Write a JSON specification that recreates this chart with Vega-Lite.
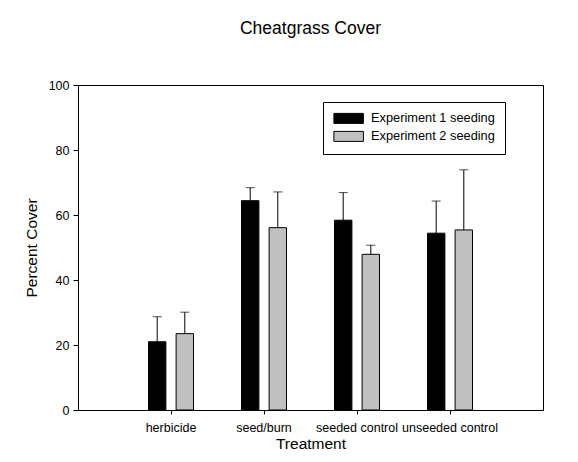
{
  "$schema": "https://vega.github.io/schema/vega-lite/v6.json",
  "width": 465,
  "height": 325,
  "autosize": "none",
  "padding": {"left": 78, "top": 85, "right": 35, "bottom": 52},
  "background": "white",
  "title": {"text": "Cheatgrass Cover", "fontSize": 17.5, "font": "Liberation Sans", "fontWeight": "normal", "color": "black", "offset": 42},
  "data": {
    "values": [
      {"treatment": "herbicide", "experiment": "Experiment 1 seeding", "cover": 21.0, "upper": 28.7},
      {"treatment": "herbicide", "experiment": "Experiment 2 seeding", "cover": 23.5, "upper": 30.1},
      {"treatment": "seed/burn", "experiment": "Experiment 1 seeding", "cover": 64.4, "upper": 68.4},
      {"treatment": "seed/burn", "experiment": "Experiment 2 seeding", "cover": 56.1, "upper": 67.1},
      {"treatment": "seeded control", "experiment": "Experiment 1 seeding", "cover": 58.4, "upper": 66.9},
      {"treatment": "seeded control", "experiment": "Experiment 2 seeding", "cover": 47.9, "upper": 50.7},
      {"treatment": "unseeded control", "experiment": "Experiment 1 seeding", "cover": 54.4, "upper": 64.3},
      {"treatment": "unseeded control", "experiment": "Experiment 2 seeding", "cover": 55.4, "upper": 73.9}
    ]
  },
  "encoding": {
    "x": {
      "field": "treatment", "type": "nominal",
      "sort": ["herbicide", "seed/burn", "seeded control", "unseeded control"],
      "scale": {"paddingInner": 0.516, "paddingOuter": 0.758},
      "axis": {"title": "Treatment", "labelAngle": 0, "labelOverlap": false, "tickSize": 4, "labelPadding": 7, "titlePadding": 3}
    },
    "xOffset": {
      "field": "experiment", "type": "nominal",
      "scale": {"paddingInner": 0.37, "paddingOuter": 0}
    }
  },
  "layer": [
    {
      "mark": {"type": "bar", "stroke": "black", "strokeWidth": 1},
      "encoding": {
        "y": {
          "field": "cover", "type": "quantitative",
          "scale": {"domain": [0, 100], "nice": false},
          "axis": {"title": "Percent Cover", "values": [0, 20, 40, 60, 80, 100], "tickSize": 5, "labelPadding": 4, "titlePadding": 9}
        },
        "color": {
          "field": "experiment", "type": "nominal",
          "scale": {"range": ["#000000", "#c0c0c0"]},
          "legend": {
            "title": null, "orient": "none", "legendX": 245, "legendY": 17,
            "strokeColor": "black", "fillColor": "white", "padding": 10,
            "symbolType": "M-2.95,-1H2.95V1H-2.95Z", "symbolSize": 100,
            "symbolOffset": 9.25,
            "symbolStrokeColor": "black", "symbolStrokeWidth": 1,
            "labelFontSize": 12.8, "labelOffset": 16, "rowPadding": 3
          }
        }
      }
    },
    {
      "mark": {"type": "rule", "color": "black", "strokeWidth": 1},
      "encoding": {
        "y": {"field": "cover", "type": "quantitative"},
        "y2": {"field": "upper"}
      }
    },
    {
      "mark": {"type": "tick", "color": "black", "thickness": 1, "size": 9, "orient": "horizontal"},
      "encoding": {
        "y": {"field": "upper", "type": "quantitative"}
      }
    }
  ],
  "config": {
    "font": "Liberation Sans",
    "view": {"stroke": "black", "strokeWidth": 1},
    "axis": {
      "grid": false, "domainColor": "black", "tickColor": "black",
      "labelColor": "black", "titleColor": "black",
      "labelFont": "Liberation Sans", "titleFont": "Liberation Sans",
      "labelFontSize": 12.5, "titleFontSize": 15.5, "titleFontWeight": "normal"
    },
    "legend": {"labelFont": "Liberation Sans", "labelColor": "black"}
  }
}
